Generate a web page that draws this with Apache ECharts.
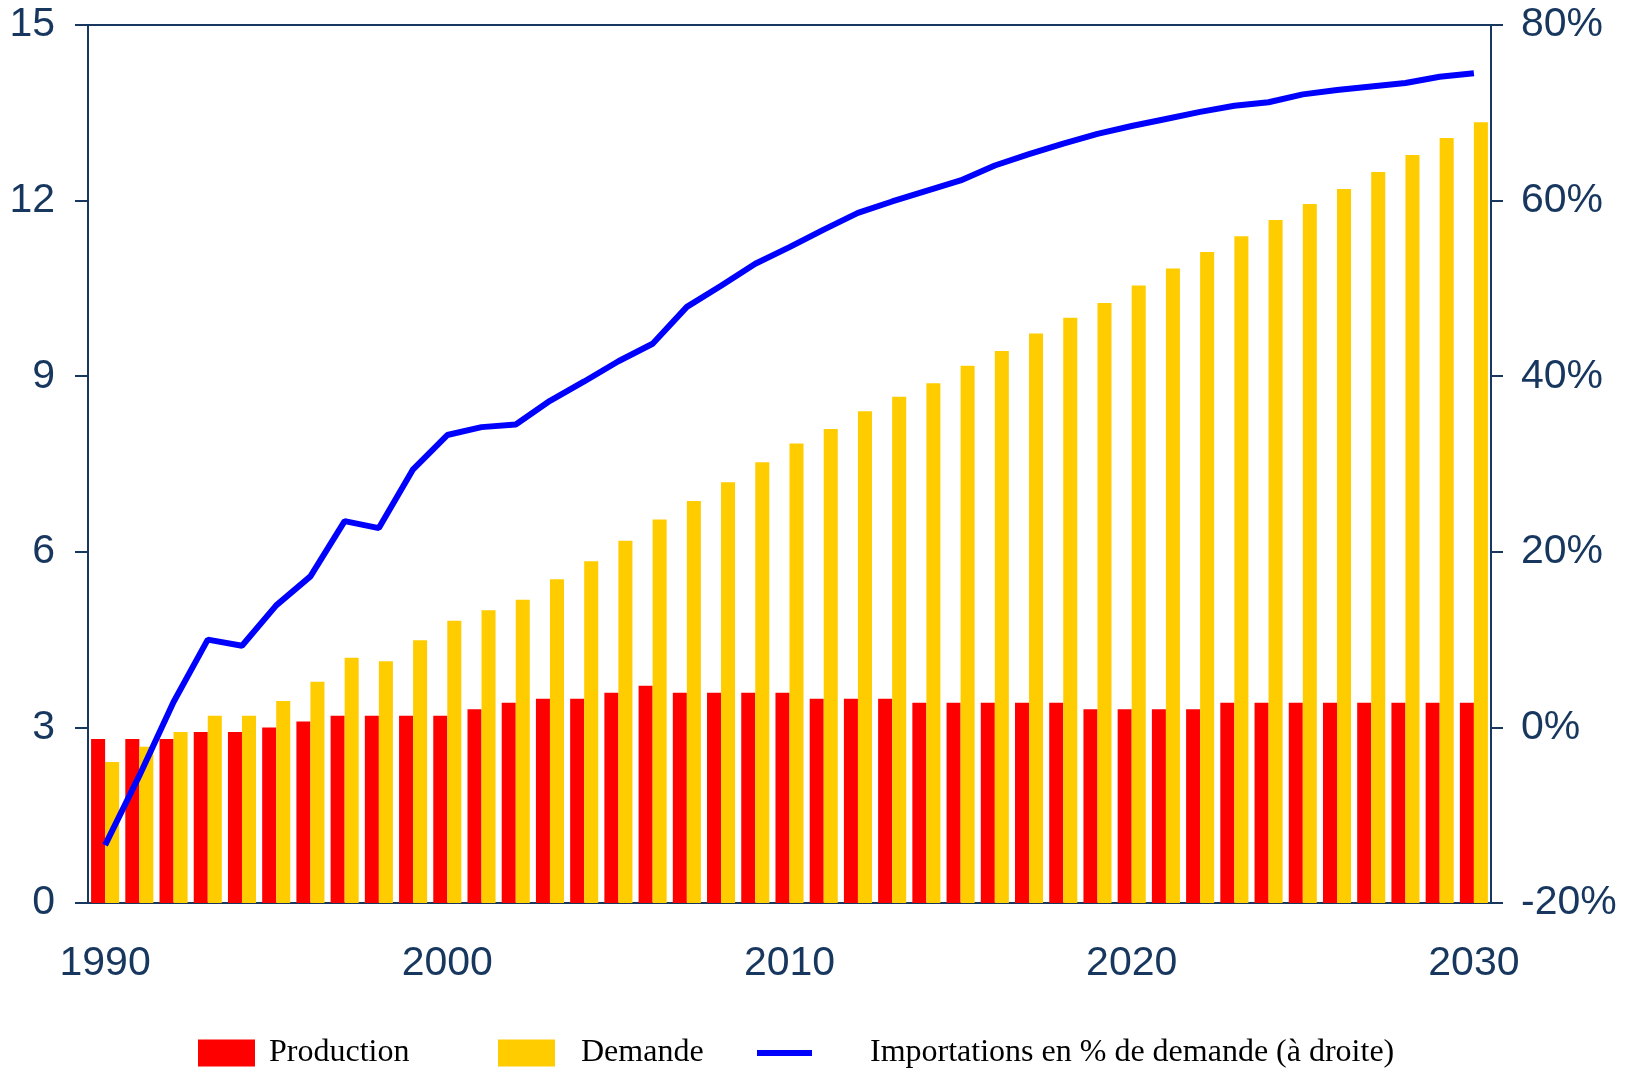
<!DOCTYPE html>
<html>
<head>
<meta charset="utf-8">
<script src="https://cdn.jsdelivr.net/npm/echarts@6/dist/echarts.min.js"></script>
<style>
    html, body { margin: 0; padding: 0; background: #fff; }
    #chart { width: 1633px; height: 1071px; }
</style>
</head>
<body>
<div id="chart"></div>
<script>
// annees 1990 - 2030
var years = [];
for (var y = 1990; y <= 2030; y++) { years.push(String(y)); }

var production = [2.8, 2.8, 2.8, 2.92, 2.92, 3.0, 3.1, 3.2, 3.2, 3.2,
    3.2, 3.31, 3.42, 3.49, 3.49, 3.59, 3.71, 3.59, 3.59, 3.59,
    3.59, 3.49, 3.49, 3.49, 3.42, 3.42, 3.42, 3.42, 3.42, 3.31,
    3.31, 3.31, 3.31, 3.42, 3.42, 3.42, 3.42, 3.42, 3.42, 3.42,
    3.42];

var demande = [2.41, 2.67, 2.92, 3.2, 3.2, 3.45, 3.78, 4.19, 4.13, 4.49,
    4.82, 5.0, 5.18, 5.53, 5.84, 6.19, 6.55, 6.87, 7.19, 7.53,
    7.85, 8.1, 8.4, 8.65, 8.88, 9.18, 9.43, 9.73, 10.0, 10.25,
    10.55, 10.84, 11.12, 11.39, 11.67, 11.94, 12.2, 12.49, 12.78, 13.07,
    13.34];

// importations en % de la demande (axe de droite)
var importations = [-13.4, -5.5, 2.9, 10.0, 9.3, 13.9, 17.2, 23.5, 22.7, 29.4,
    33.3, 34.2, 34.5, 37.2, 39.4, 41.7, 43.7, 47.9, 50.3, 52.8,
    54.7, 56.7, 58.6, 59.9, 61.1, 62.3, 64.0, 65.3, 66.5, 67.6,
    68.5, 69.3, 70.1, 70.8, 71.2, 72.1, 72.6, 73.0, 73.4, 74.1,
    74.5];

var navy = '#17375E';
var axisFont = { color: navy, fontSize: 41, fontFamily: 'Liberation Sans, Arial, sans-serif' };
var legendFont = { color: '#000', fontSize: 32, fontFamily: 'Liberation Serif, Times New Roman, serif' };

var chart = echarts.init(document.getElementById('chart'));

/**
 * une legende par serie (espacements irreguliers)
 */
var makeLegend = function (name, left, pad, w, h) {
    return {
        data: [{ name: name, icon: 'rect' }],
        left: left,
        top: 1032,
        itemWidth: w,
        itemHeight: h,
        selectedMode: false,
        textStyle: Object.assign({}, legendFont, { padding: [0, 0, 0, pad] })
    };
};

chart.setOption({
    animation: false,
    grid: {
        left: 88, right: 142, top: 25, bottom: 168,
        show: true, borderColor: navy, borderWidth: 2, backgroundColor: 'transparent'
    },
    legend: [
        makeLegend('Production', 193, 9, 57, 27),
        makeLegend('Demande', 493, 21, 57, 27),
        makeLegend('Importations en % de demande (à droite)', 752, 53, 55, 6)
    ],
    xAxis: {
        type: 'category',
        data: years,
        boundaryGap: true,
        axisLine: { lineStyle: { color: navy, width: 2 } },
        axisTick: { interval: 0, length: 12, lineStyle: { color: navy, width: 2 } },
        axisLabel: Object.assign({
            interval: function (i) { return i % 10 === 0; },
            margin: 40
        }, axisFont),
        splitLine: { show: false }
    },
    yAxis: [{
        type: 'value',
        min: 0, max: 15, interval: 3,
        axisLine: { show: true, lineStyle: { color: navy, width: 2 } },
        axisTick: { show: true, length: 13, lineStyle: { color: navy, width: 2 } },
        axisLabel: Object.assign({ margin: 33 }, axisFont),
        splitLine: { show: false }
    }, {
        type: 'value',
        position: 'right',
        min: -20, max: 80, interval: 20,
        axisLine: { show: true, lineStyle: { color: navy, width: 2 } },
        axisTick: { show: true, length: 12, lineStyle: { color: navy, width: 2 } },
        axisLabel: Object.assign({ margin: 30, formatter: '{value}%' }, axisFont),
        splitLine: { show: false }
    }],
    series: [{
        name: 'Production',
        type: 'bar',
        data: production,
        itemStyle: { color: '#FF0000' },
        barGap: '0%',
        barCategoryGap: '18%'
    }, {
        name: 'Demande',
        type: 'bar',
        data: demande,
        itemStyle: { color: '#FFCC00' }
    }, {
        name: 'Importations en % de demande (à droite)',
        type: 'line',
        yAxisIndex: 1,
        data: importations,
        symbol: 'none',
        lineStyle: { color: '#0000FF', width: 6 },
        itemStyle: { color: '#0000FF' },
        z: 5
    }]
});
</script>
</body>
</html>
